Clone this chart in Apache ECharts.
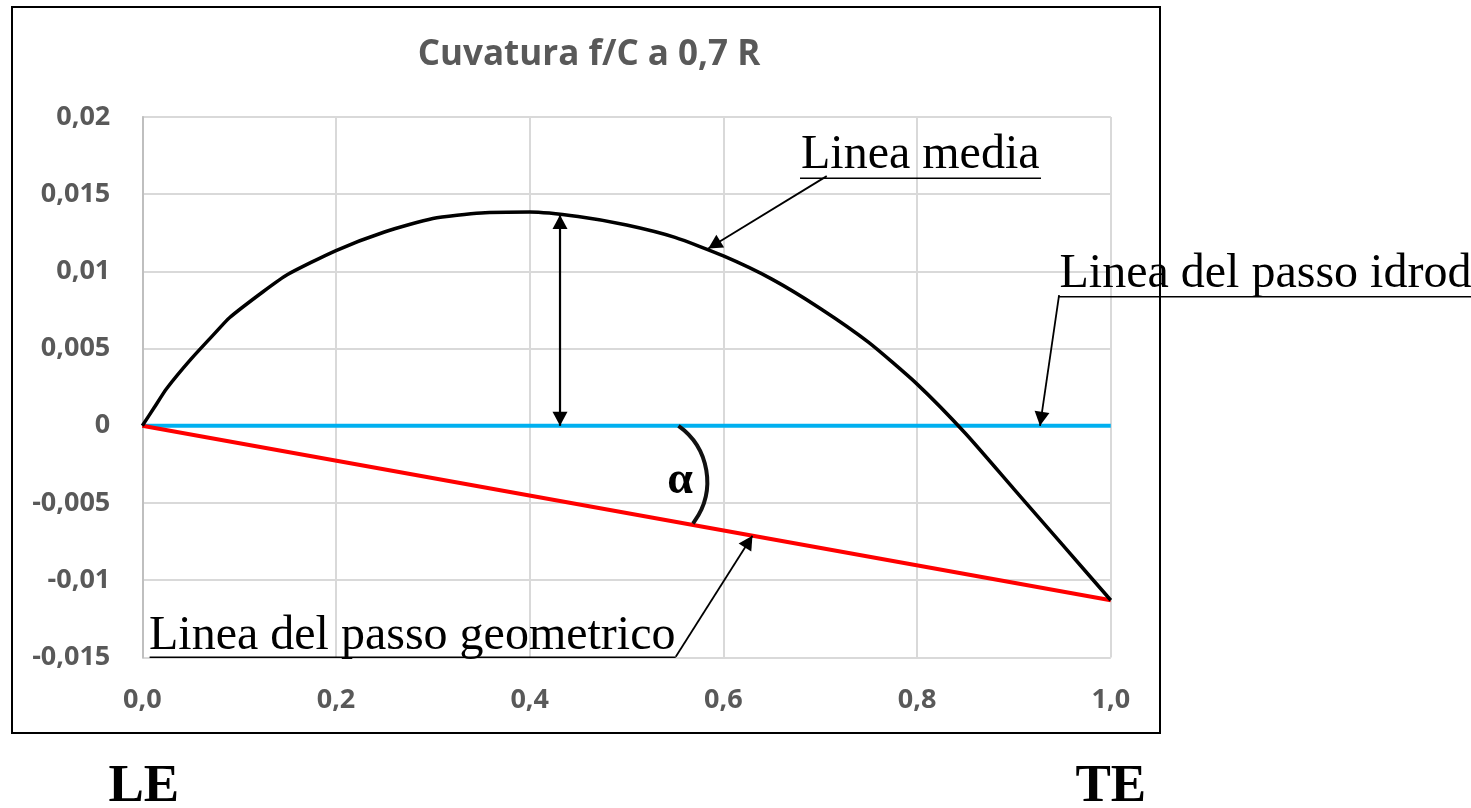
<!DOCTYPE html>
<html>
<head>
<meta charset="utf-8">
<title>Cuvatura f/C a 0,7 R</title>
<script src="https://cdn.jsdelivr.net/npm/echarts@6/dist/echarts.min.js"></script>
<style>
  html, body { margin: 0; padding: 0; background: #fff; }
  #main { width: 1471px; height: 808px; }
</style>
</head>
<body>
<div id="main"></div>
<script>
// linea media (camber line) f/C along the chord x/C
var xMedia = [0, 0.0125, 0.025, 0.05, 0.075, 0.09, 0.125, 0.15, 0.2, 0.25, 0.3, 0.35, 0.4,
  0.45, 0.5, 0.55, 0.6, 0.65, 0.7, 0.75, 0.8, 0.85, 0.9, 0.95, 1.0];
var yMedia = [0, 0.0012, 0.0024, 0.0043, 0.0060, 0.0070, 0.0087, 0.0098, 0.01135, 0.01255, 0.01343, 0.01378, 0.01384,
  0.01355, 0.0130, 0.0122, 0.0110, 0.0095, 0.0076, 0.0054, 0.0027, -0.0005, -0.0041, -0.0077, -0.0113];

// linea del passo idrodinamico
var xIdro = [0, 1];
var yIdro = [0, 0];

// linea del passo geometrico
var xGeom = [0, 1];
var yGeom = [0, -0.0113];

var titolo = 'Cuvatura f/C a 0,7 R';

function pairs(xs, ys) {
  return xs.map(function (x, i) { return [x, ys[i]]; });
}

var labelStyle = {
  color: '#595959',
  fontFamily: 'Open Sans',
  fontWeight: 'bold',
  fontSize: 27
};

var option = {
  animation: false,
  backgroundColor: '#fff',
  grid: { left: 142.3, right: 360.2, top: 117, bottom: 150.6 },
  xAxis: {
    type: 'value',
    min: 0, max: 1, interval: 0.2,
    axisLine: { show: false },
    axisTick: { show: false },
    splitLine: { show: true, lineStyle: { color: '#d9d9d9', width: 2 } },
    axisLabel: Object.assign({
      margin: 29,
      formatter: function (v) { return v.toFixed(1).replace('.', ','); }
    }, labelStyle)
  },
  yAxis: {
    type: 'value',
    min: -0.015, max: 0.02, interval: 0.005,
    axisLine: { show: true, onZero: false, lineStyle: { color: '#bfbfbf', width: 2 } },
    axisTick: { show: false },
    splitLine: { show: true, lineStyle: { color: '#d9d9d9', width: 2 } },
    axisLabel: Object.assign({
      margin: 32,
      formatter: function (v) { return String(+v.toFixed(3)).replace('.', ','); }
    }, labelStyle)
  },
  series: [
    {
      name: 'Linea del passo idrodinamico', type: 'line', data: pairs(xIdro, yIdro),
      showSymbol: false, lineStyle: { color: '#00b0f0', width: 4 }
    },
    {
      name: 'Linea del passo geometrico', type: 'line', data: pairs(xGeom, yGeom),
      showSymbol: false, lineStyle: { color: '#ff0000', width: 4 }
    },
    {
      name: 'Linea media', type: 'line', data: pairs(xMedia, yMedia),
      showSymbol: false, smooth: 0.2,
      lineStyle: { color: '#000', width: 3.5, join: 'round' }
    }
  ]
};

var chart = echarts.init(document.getElementById('main'));
chart.setOption(option);

// annotations: arrows anchored in data coordinates
function px(p) { return chart.convertToPixel({ gridIndex: 0 }, p); }

function arrowHead(tip, from) {
  var len = 14, half = 7.5;
  var dx = tip[0] - from[0], dy = tip[1] - from[1];
  var d = Math.sqrt(dx * dx + dy * dy), ux = dx / d, uy = dy / d;
  var bx = tip[0] - ux * len, by = tip[1] - uy * len;
  return {
    type: 'polygon', z: 100,
    shape: { points: [tip, [bx - uy * half, by + ux * half], [bx + uy * half, by - ux * half]] },
    style: { fill: '#000' }
  };
}

function arrow(fromData, tipData, w, both) {
  var a = px(fromData), b = px(tipData);
  var els = [{
    type: 'line', z: 100,
    shape: { x1: a[0], y1: a[1], x2: b[0], y2: b[1] },
    style: { stroke: '#000', lineWidth: w }
  }, arrowHead(b, a)];
  if (both) els.push(arrowHead(a, b));
  return els;
}

function testo(str, x, y, font, align) {
  return {
    type: 'text', z: 100,
    style: {
      text: str, x: x, y: y, font: font, fill: '#000',
      textAlign: align || 'left', textVerticalAlign: 'middle'
    }
  };
}

function sottolinea(x1, x2, y) {
  return {
    type: 'line', z: 100,
    shape: { x1: x1, y1: y, x2: x2, y2: y },
    style: { stroke: '#000', lineWidth: 1.6 }
  };
}

var serif = '48px "Liberation Serif", "Times New Roman", serif';
var serifBold = 'bold 53px "Liberation Serif", "Times New Roman", serif';
var arcCenter = px([0.5127, -0.00361]);

var elements = [
  // chart area frame
  {
    type: 'rect', z: 90,
    shape: { x: 12, y: 7, width: 1148, height: 726 },
    style: { fill: 'none', stroke: '#000', lineWidth: 2 }
  },
  {
    type: 'text', z: 100,
    style: {
      text: titolo, x: 589, y: 55,
      font: 'bold 35px "Open Sans", sans-serif', fill: '#595959',
      textAlign: 'center', textVerticalAlign: 'middle'
    }
  },
  testo('Linea media', 801, 155, serif),
  sottolinea(800, 1041, 178.3),
  testo('Linea del passo idrod', 1059.5, 274, serif),
  sottolinea(1059, 1471, 296.7),
  testo('Linea del passo geometrico', 149, 636, serif),
  sottolinea(149.6, 675.7, 657.3),
  testo('LE', 108.5, 787.5, serifBold),
  testo('TE', 1075.5, 787.5, serifBold),
  testo('\u03b1', 680, 481, 'bold 46px "Liberation Serif", "Times New Roman", serif', 'center'),
  {
    type: 'arc', z: 100,
    shape: { cx: arcCenter[0], cy: arcCenter[1], r: 68.4, startAngle: -0.953, endAngle: 0.660, clockwise: true },
    style: { stroke: '#111', lineWidth: 4, fill: 'none' }
  }
]
  .concat(arrow([0.7067, 0.01617], [0.5844, 0.01149], 1.8))
  .concat(arrow([0.9466, 0.00847], [0.9269, 0], 1.8))
  .concat(arrow([0.5508, -0.01496], [0.630, -0.00712], 1.8))
  .concat(arrow([0.4313, 0], [0.4313, 0.01365], 2.2, true));

chart.setOption({ graphic: { elements: elements } });
</script>
</body>
</html>
